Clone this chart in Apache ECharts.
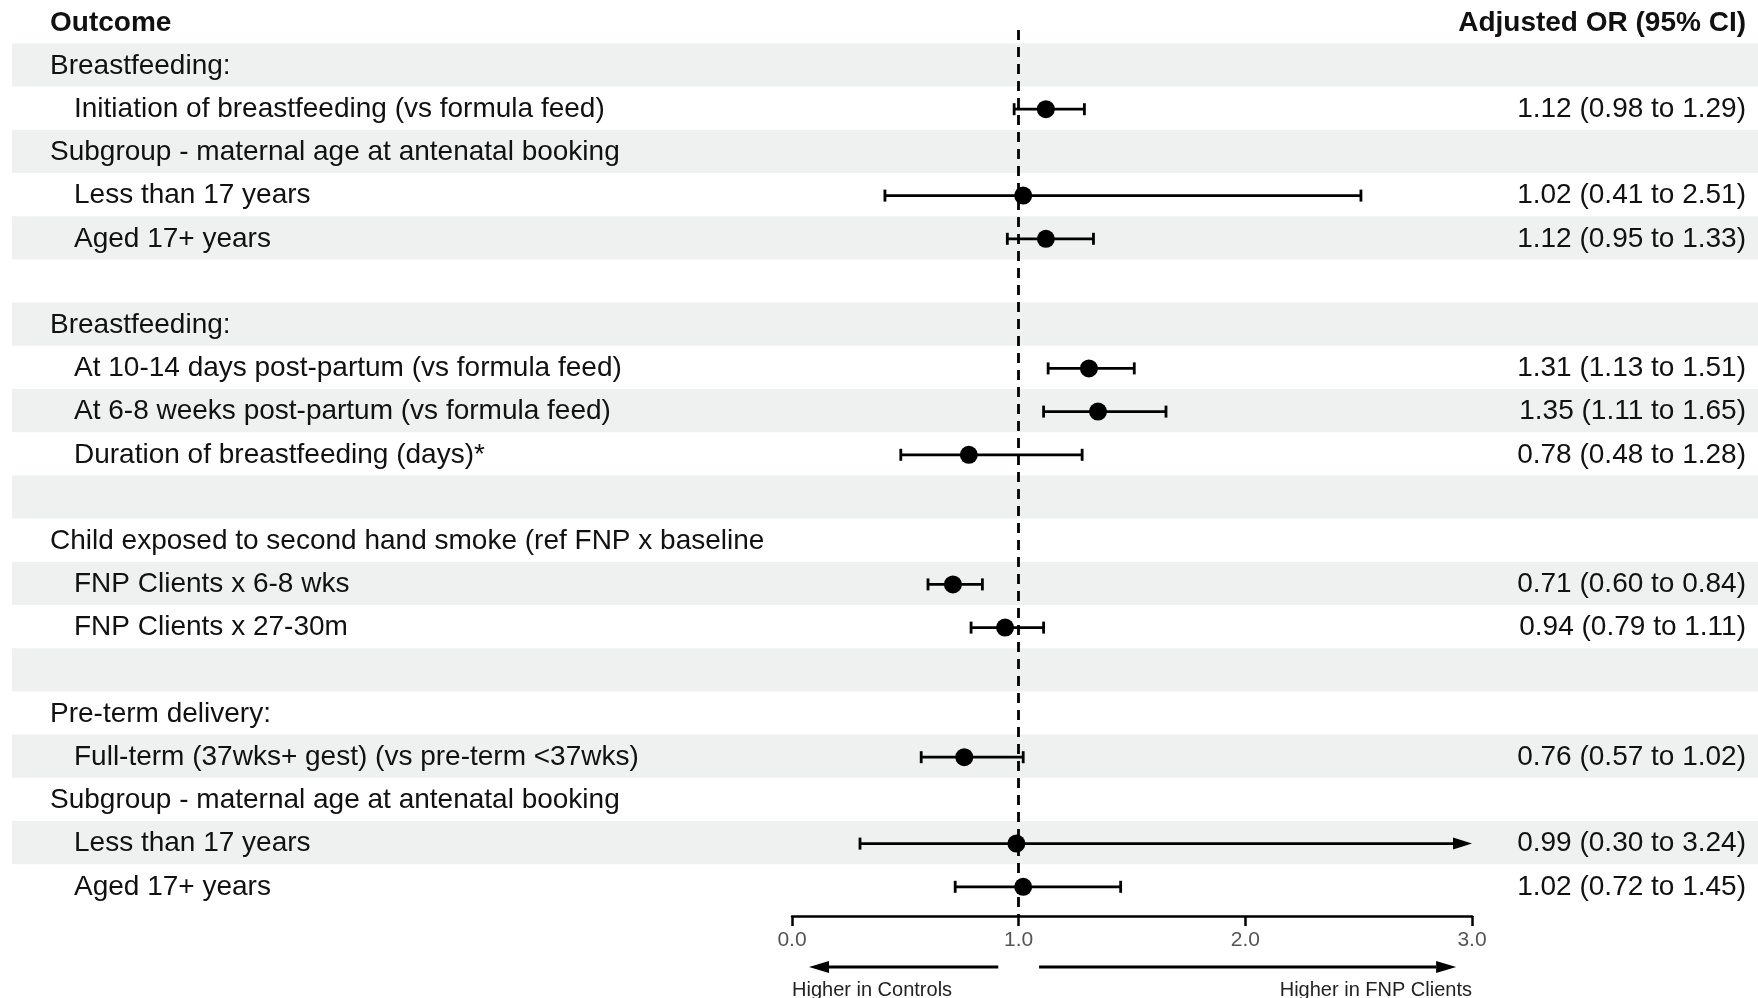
<!doctype html>
<html>
<head>
<meta charset="utf-8">
<title>Forest plot</title>
<script src="https://cdn.jsdelivr.net/npm/echarts@6/dist/echarts.min.js"></script>
<style>
  html, body { margin: 0; padding: 0; background: #fff; }
  #main { width: 1758px; height: 998px; }
</style>
</head>
<body>
<div id="main"></div>
<script>
// row labels, top to bottom; level 0 = section heading, 1 = indented outcome
var labels = [
    'Breastfeeding:',
    'Initiation of breastfeeding (vs formula feed)',
    'Subgroup - maternal age at antenatal booking',
    'Less than 17 years',
    'Aged 17+ years',
    '',
    'Breastfeeding:',
    'At 10-14 days post-partum (vs formula feed)',
    'At 6-8 weeks post-partum (vs formula feed)',
    'Duration of breastfeeding (days)*',
    '',
    'Child exposed to second hand smoke (ref FNP x baseline',
    'FNP Clients x 6-8 wks',
    'FNP Clients x 27-30m',
    '',
    'Pre-term delivery:',
    'Full-term (37wks+ gest) (vs pre-term <37wks)',
    'Subgroup - maternal age at antenatal booking',
    'Less than 17 years',
    'Aged 17+ years'
];
var levels = [0, 1, 0, 1, 1, 0, 0, 1, 1, 1, 0, 0, 1, 1, 0, 0, 1, 0, 1, 1];

// adjusted odds ratios and 95% CI (null = no estimate on that row)
var orEst = [null, 1.12, null, 1.02, 1.12, null, null, 1.31, 1.35, 0.78, null, null, 0.71, 0.94, null, null, 0.76, null, 0.99, 1.02];
var orLow = [null, 0.98, null, 0.41, 0.95, null, null, 1.13, 1.11, 0.48, null, null, 0.60, 0.79, null, null, 0.57, null, 0.30, 0.72];
var orHigh = [null, 1.29, null, 2.51, 1.33, null, null, 1.51, 1.65, 1.28, null, null, 0.84, 1.11, null, null, 1.02, null, 3.24, 1.45];

var xTicks = [0, 1, 2, 3];
var directionNotes = [
    // from, to, text, anchor
    [0.91, 0.075, 'Higher in Controls', 0],
    [1.09, 2.93, 'Higher in FNP Clients', 3]
];

// layout
var ROW0 = 66, ROW_H = 43.2;
var PLOT_TOP = 30, PLOT_BOTTOM = 916;
var FONT = '"Liberation Sans", Arial, sans-serif';
var TXT = 28;

var xMin = xTicks[0], xMax = xTicks[xTicks.length - 1];

var tableData = [];
tableData.push([-1, 'Outcome', 'Adjusted OR (95% CI)', 0, 1]);
labels.forEach(function (lab, i) {
    var ci = orEst[i] == null ? '' :
        orEst[i].toFixed(2) + ' (' + orLow[i].toFixed(2) + ' to ' + orHigh[i].toFixed(2) + ')';
    tableData.push([i, lab, ci, levels[i], 0]);
});

var ciData = [], pointData = [];
orEst.forEach(function (v, i) {
    if (v == null) return;
    ciData.push([i, orLow[i], orHigh[i]]);
    pointData.push([v, i]);
});

var chart = echarts.init(document.getElementById('main'));

chart.setOption({
    backgroundColor: '#ffffff',
    animation: false,
    grid: [
        { left: 792, width: 680, top: PLOT_TOP, height: PLOT_BOTTOM - PLOT_TOP },
        { left: 12, right: 0, top: ROW0 - 1.5 * ROW_H - 1, height: 21 * ROW_H }
    ],
    xAxis: [
        {
            type: 'value', gridIndex: 0, min: xMin, max: xMax, interval: 1,
            position: 'bottom',
            splitLine: { show: false },
            axisLine: { show: true, onZero: false, lineStyle: { color: '#000', width: 2.5 } },
            axisTick: { show: true, length: 10, lineStyle: { color: '#000', width: 2.5 } },
            axisLabel: {
                margin: 14, color: '#555', fontSize: 21, fontFamily: FONT,
                formatter: function (v) { return v.toFixed(1); }
            }
        },
        { type: 'value', gridIndex: 1, min: 0, max: 1, show: false }
    ],
    yAxis: [
        {
            type: 'value', gridIndex: 0, inverse: true, show: false,
            min: (PLOT_TOP - ROW0) / ROW_H, max: (PLOT_BOTTOM - ROW0) / ROW_H
        },
        { type: 'value', gridIndex: 1, inverse: true, show: false, min: -1.5, max: 19.5 }
    ],
    series: [
        {
            // row bands, labels and CI text
            type: 'custom',
            xAxisIndex: 1, yAxisIndex: 1,
            z: 0,
            silent: true,
            data: tableData,
            renderItem: function (params, api) {
                var i = api.value(0);
                var d = tableData[params.dataIndex];
                var cs = params.coordSys;
                var yc = api.coord([0, i])[1] + 1;
                var kids = [];
                if (i >= 0 && i % 2 === 0) {
                    var top = api.coord([0, i - 0.5])[1];
                    var bot = api.coord([0, i + 0.5])[1];
                    kids.push({
                        type: 'rect',
                        shape: { x: cs.x, y: top, width: cs.width, height: bot - top },
                        style: { fill: '#eef1f0' }
                    });
                }
                var bold = d[4] === 1;
                var font = (bold ? 'bold ' : '') + TXT + 'px ' + FONT;
                kids.push({
                    type: 'text',
                    x: cs.x + (d[3] === 1 ? 62 : 38), y: yc,
                    style: { text: d[1], fill: '#111', font: font, align: 'left', verticalAlign: 'middle' }
                });
                kids.push({
                    type: 'text',
                    x: cs.x + cs.width - 12, y: yc,
                    style: { text: d[2], fill: '#111', font: font, align: 'right', verticalAlign: 'middle' }
                });
                return { type: 'group', children: kids };
            }
        },
        {
            // confidence intervals
            type: 'custom',
            xAxisIndex: 0, yAxisIndex: 0,
            z: 2,
            silent: true,
            data: ciData,
            renderItem: function (params, api) {
                var i = api.value(0), lo = api.value(1), hi = api.value(2);
                var a = api.coord([lo, i]);
                var clipped = hi > xMax;
                var b = api.coord([Math.min(hi, xMax), i]);
                var st = { stroke: '#000', lineWidth: 2.8, fill: null };
                var cap = 6;
                var kids = [
                    { type: 'line', shape: { x1: a[0], y1: a[1] - cap, x2: a[0], y2: a[1] + cap }, style: st }
                ];
                if (clipped) {
                    var head = 19;
                    kids.push({ type: 'line', shape: { x1: a[0], y1: a[1], x2: b[0] - head, y2: b[1] }, style: st });
                    kids.push({
                        type: 'polygon',
                        shape: { points: [[b[0], b[1]], [b[0] - head, b[1] - 6], [b[0] - head, b[1] + 6]] },
                        style: { fill: '#000' }
                    });
                } else {
                    kids.push({ type: 'line', shape: { x1: a[0], y1: a[1], x2: b[0], y2: b[1] }, style: st });
                    kids.push({ type: 'line', shape: { x1: b[0], y1: b[1] - cap, x2: b[0], y2: b[1] + cap }, style: st });
                }
                return { type: 'group', children: kids };
            },
            markLine: {
                silent: true,
                symbol: 'none',
                label: { show: false },
                lineStyle: { color: '#000', type: [10, 7], width: 2.8 },
                data: [{ xAxis: 1 }]
            }
        },
        {
            type: 'scatter',
            xAxisIndex: 0, yAxisIndex: 0,
            z: 3,
            symbol: 'circle',
            symbolSize: 18,
            itemStyle: { color: '#000', opacity: 1 },
            silent: true,
            data: pointData
        },
        {
            // direction arrows under the axis
            type: 'custom',
            xAxisIndex: 0, yAxisIndex: 0,
            clip: false,
            silent: true,
            data: directionNotes,
            renderItem: function (params, api) {
                var d = directionNotes[params.dataIndex];
                var yArrow = (967 - ROW0) / ROW_H, yText = (990 - ROW0) / ROW_H;
                var p0 = api.coord([d[0], yArrow]);
                var p1 = api.coord([d[1], yArrow]);
                var dir = p1[0] > p0[0] ? 1 : -1;
                var head = 20;
                var t = api.coord([d[3], yText]);
                return {
                    type: 'group',
                    children: [
                        { type: 'line', shape: { x1: p0[0], y1: p0[1], x2: p1[0] - dir * head, y2: p1[1] },
                          style: { stroke: '#000', lineWidth: 3 } },
                        { type: 'polygon',
                          shape: { points: [[p1[0], p1[1]], [p1[0] - dir * head, p1[1] - 6], [p1[0] - dir * head, p1[1] + 6]] },
                          style: { fill: '#000' } },
                        { type: 'text', x: t[0], y: t[1],
                          style: { text: d[2], fill: '#222', font: '20px ' + FONT,
                                   align: d[3] === xMin ? 'left' : 'right', verticalAlign: 'middle' } }
                    ]
                };
            }
        }
    ]
});

window.addEventListener('resize', function () {
    chart.resize();
});
</script>
</body>
</html>
